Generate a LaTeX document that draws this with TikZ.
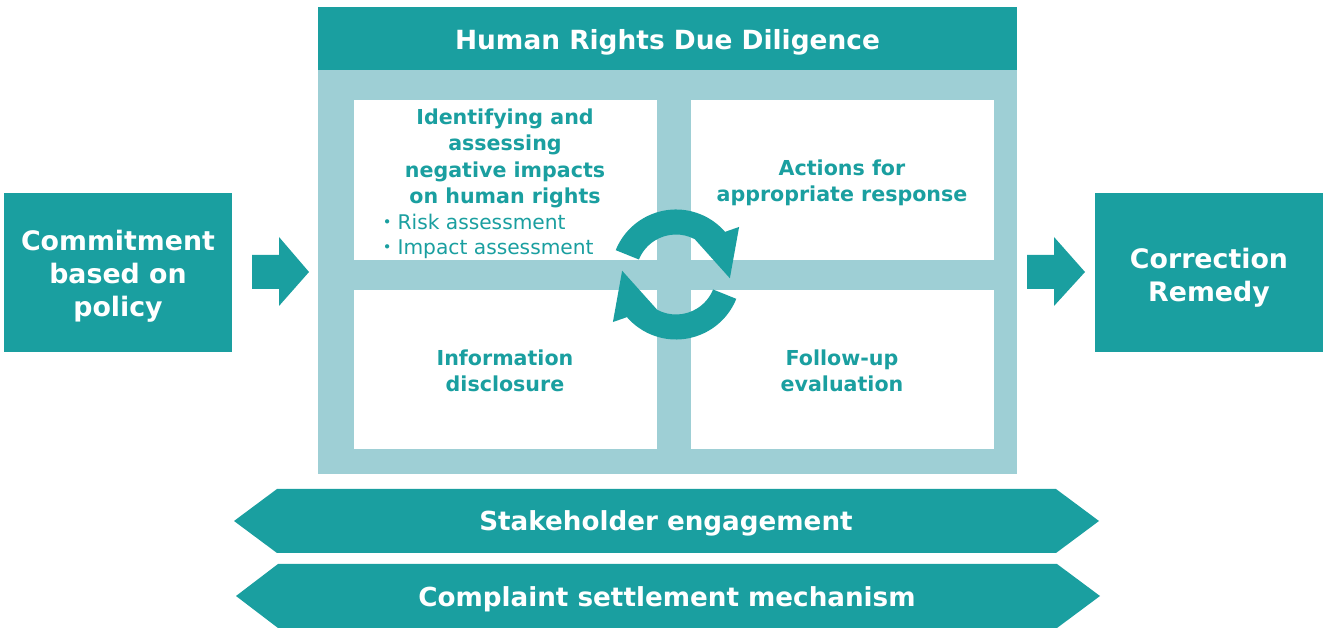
\documentclass[tikz,border=0pt]{standalone}
\usepackage{fontspec}
\setmainfont{DejaVu Sans}
\newfontfamily\cjk{Noto Sans CJK JP}
\definecolor{teal1}{HTML}{1A9FA0}
\definecolor{light1}{HTML}{9ECFD5}
\tikzset{
  darkbox/.style={fill=teal1, draw=none, inner sep=0pt, text=white, align=center, font=\fontsize{13.4}{16.5}\selectfont\bfseries},
  whitebox/.style={fill=white, draw=none, inner sep=0pt, minimum width=151.5pt, minimum height=80pt},
  boxtext/.style={inner sep=0pt, text=teal1, align=center, font=\fontsize{10.3}{13.1}\selectfont\bfseries},
  subtext/.style={inner sep=0pt, text=teal1, anchor=base west, font=\fontsize{10.1}{12.5}\selectfont},
  bandtext/.style={inner sep=0pt, text=white, font=\fontsize{13.1}{15}\selectfont\bfseries},
}
\begin{document}
\begin{tikzpicture}[x=0.5pt,y=-0.5pt]
\useasboundingbox (0,0) rectangle (1324,630);
% left and right boxes
\node[darkbox, minimum width=114pt, minimum height=79.5pt] (commit) at (118,272.5) {};
\node[inner sep=0pt, text=white, align=center, font=\fontsize{13.4}{16.5}\selectfont\bfseries] (committ) at (118,276.5) {Commitment\\based on\\policy};
\node[darkbox, minimum width=114pt, minimum height=79.5pt] (remedy) at (1209,272.5) {};
\node[inner sep=0pt, text=white, align=center, font=\fontsize{13.4}{16.5}\selectfont\bfseries] (remedyt) at (1209,277.5) {Correction\\Remedy};
% panel
\node[fill=light1, inner sep=0pt, minimum width=349.5pt, minimum height=202pt] (panel) at (667.5,272) {};
\node[darkbox, minimum width=349.5pt, minimum height=31.5pt] (hrdd) at (667.5,38.5) {};
\node[inner sep=0pt, text=white, font=\fontsize{13.2}{15}\selectfont\bfseries] (hrddt) at (667.5,42) {Human Rights Due Diligence};
% white boxes
\node[whitebox] (tl) at (505.5,180) {};
\node[whitebox] (tr) at (842.5,180) {};
\node[whitebox, minimum height=79.5pt] (bl) at (505.5,369.5) {};
\node[whitebox, minimum height=79.5pt] (br) at (842.5,369.5) {};
% texts
\node[boxtext] (tlt) at (505,158.5) {Identifying and\\assessing\\negative impacts\\on human rights};
\node[subtext] (risk) at (377,229.5) {{\cjk ・}Risk assessment};
\node[subtext] (impact) at (377,254.5) {{\cjk ・}Impact assessment};
\node[boxtext] (trt) at (842,183) {Actions for\\appropriate response};
\node[boxtext] (blt) at (505,371) {Information\\disclosure};
\node[boxtext] (brt) at (842,371) {Follow-up\\evaluation};
% block arrows
\fill[teal1] (252,255) -- (279,255) -- (279,237) -- (309,272) -- (279,306) -- (279,289) -- (252,289) -- cycle;
\fill[teal1] (1027,255) -- (1054,255) -- (1054,237) -- (1085,272) -- (1054,306) -- (1054,289) -- (1027,289) -- cycle;
% cycle arrows
\begin{scope}[shift={(676,274.5)}, x=0.5pt, y=0.5pt]
\fill[teal1] (158:65) arc[start angle=158, end angle=41, radius=65] -- (37:79) -- (-4:54) -- (62:40) arc[start angle=62, end angle=158, radius=40] -- cycle;
\fill[teal1] (338:65) arc[start angle=338, end angle=221, radius=65] -- (217:79) -- (176:54) -- (242:40) arc[start angle=242, end angle=338, radius=40] -- cycle;
\end{scope}
% bands
\fill[teal1] (234,521) -- (277,489) -- (1056,489) -- (1099,521) -- (1056,553) -- (277,553) -- cycle;
\fill[teal1] (236,596) -- (278,564) -- (1057,564) -- (1100,596) -- (1057,628) -- (278,628) -- cycle;
\node[bandtext] (stake) at (666,523) {Stakeholder engagement};
\node[bandtext] (complaint) at (667,599) {Complaint settlement mechanism};
\end{tikzpicture}
\end{document}
